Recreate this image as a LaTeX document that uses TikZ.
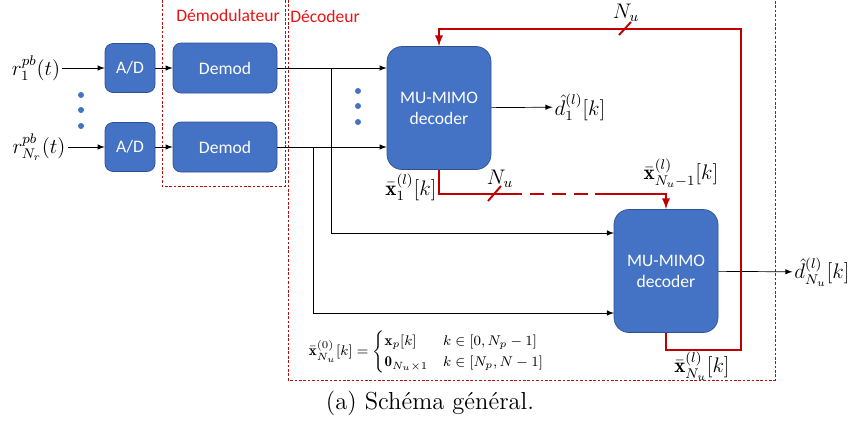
\documentclass[tikz,border=0pt]{standalone}
\usepackage{amsmath}
\usepackage{bm}
\usepackage{fontspec}
\setsansfont{Carlito}
\usetikzlibrary{positioning}

\definecolor{boxblue}{RGB}{68,114,196}
\definecolor{boxedge}{RGB}{47,82,143}
\definecolor{fbred}{RGB}{192,0,0}
\definecolor{zonered}{RGB}{235,20,20}

\tikzset{
  >=latex,
  block/.style={draw=boxedge, fill=boxblue, text=white, align=center,
    font=\sffamily\fontsize{10}{12}\selectfont, rounded corners=1.6mm},
  smallblock/.style={block, minimum width=10mm, minimum height=9.8mm},
  demodblock/.style={block, minimum width=20.8mm, minimum height=10mm},
  decblock/.style={block, minimum width=20.8mm, minimum height=24.6mm, rounded corners=3mm},
  zone/.style={draw=zonered!75!black, dash pattern=on 1.5pt off 1pt, line width=0.4pt},
  zonetitle/.style={text=zonered, font=\sffamily\fontsize{10}{12}\selectfont},
  fb/.style={draw=fbred, line width=1.1pt},
  sig/.style={font=\fontsize{12}{14}\selectfont, inner sep=1pt},
  bluedot/.style={fill=boxblue, draw=none}
}

\begin{document}
\begin{tikzpicture}[x=0.2mm, y=-0.2mm]
\useasboundingbox (0,0) rectangle (850,423);

% zones
\draw[zone] (162,0) -- (162,186) -- (285,186) -- (285,0);
\draw[zone] (288,0) -- (288,380) -- (775,380) -- (775,0);
\node[zonetitle] (tdem) at (228,15) {Démodulateur};
\node[zonetitle] (tdec) at (325,16) {Décodeur};

% inputs
\node[sig] (r1) at (36,68) {$r_1^{pb}(t)$};
\node[sig] (rN) at (39,147) {$r_{N_r}^{pb}(t)$};
\node[smallblock] (ad1) at (130,68) {A/D};
\node[smallblock] (ad2) at (130,147) {A/D};
\node[demodblock] (dem1) at (225,68) {Demod};
\node[demodblock] (dem2) at (225,147) {Demod};
\foreach \y in {95,110,126} \fill[bluedot] (81,\y) circle (3);

% decoders
\node[decblock] (dec1) at (439,108) {MU-MIMO\\decoder};
\node[decblock] (dec2) at (666,271) {MU-MIMO\\decoder};
\foreach \y in {91,106,122} \fill[bluedot] (358,\y) circle (3);
\node[sig] (d1) at (580,107) {$\hat{d}_1^{(l)}[k]$};
\node[sig] (dN) at (822,272) {$\hat{d}_{N_u}^{(l)}[k]$};

\draw[->] (r1) -- (ad1);
\draw[->] (rN) -- (ad2);
\draw[->] (ad1) -- (dem1);
\draw[->] (ad2) -- (dem2);
\draw[->] (dem1.east) -- (dem1.east -| dec1.west);
\draw[->] (dem2.east) -- (dem2.east -| dec1.west);
\coordinate (j1) at (331,68);
\coordinate (j2) at (313,147);
\coordinate (in1) at (614,233);
\coordinate (in2) at (614,313);
\draw[->] (j1) |- (in1);
\draw[->] (j2) |- (in2);
\draw[->] (dec1) -- (d1);
\draw[->] (dec2) -- (dN);

% feedback
\coordinate (f1) at (508,194);
\coordinate (f2) at (595,194);
\coordinate (c1) at (741,350);
\coordinate (c2) at (741,29);
\draw[fb] (dec1.south) |- (f1);
\draw[fb, dash pattern=on 8pt off 4.5pt] (f1) -- (f2);
\draw[fb, ->] (f2) -| (dec2.north);
\draw[fb, ->] (dec2.south) |- (c1) -- (c2) -| (dec1.north);
\draw[fb] (488,201) -- (501,186);
\draw[fb] (619,35) -- (631,22);

\node[sig] (nu1) at (500,179) {$N_u$};
\node[sig] (nu2) at (626,13) {$N_u$};
\node[sig] (x1) at (411,187) {$\bar{\mathbf{x}}_1^{(l)}[k]$};
\node[sig] (xm) at (681,173) {$\bar{\mathbf{x}}_{N_u-1}^{(l)}[k]$};
\node[sig] (xN) at (702,366) {$\bar{\mathbf{x}}_{N_u}^{(l)}[k]$};

\node[font=\fontsize{8.5}{10}\selectfont] (init) at (427,352)
  {$\bar{\mathbf{x}}_{N_u}^{(0)}[k]=\begin{cases}\mathbf{x}_p[k] & k\in[0,N_p-1]\\
   \mathbf{0}_{N_u\times 1} & k\in[N_p,N-1]\end{cases}$};

\node[font=\fontsize{14}{16}\selectfont] (cap) at (430,403) {(a) Schéma général.};
\end{tikzpicture}
\end{document}
